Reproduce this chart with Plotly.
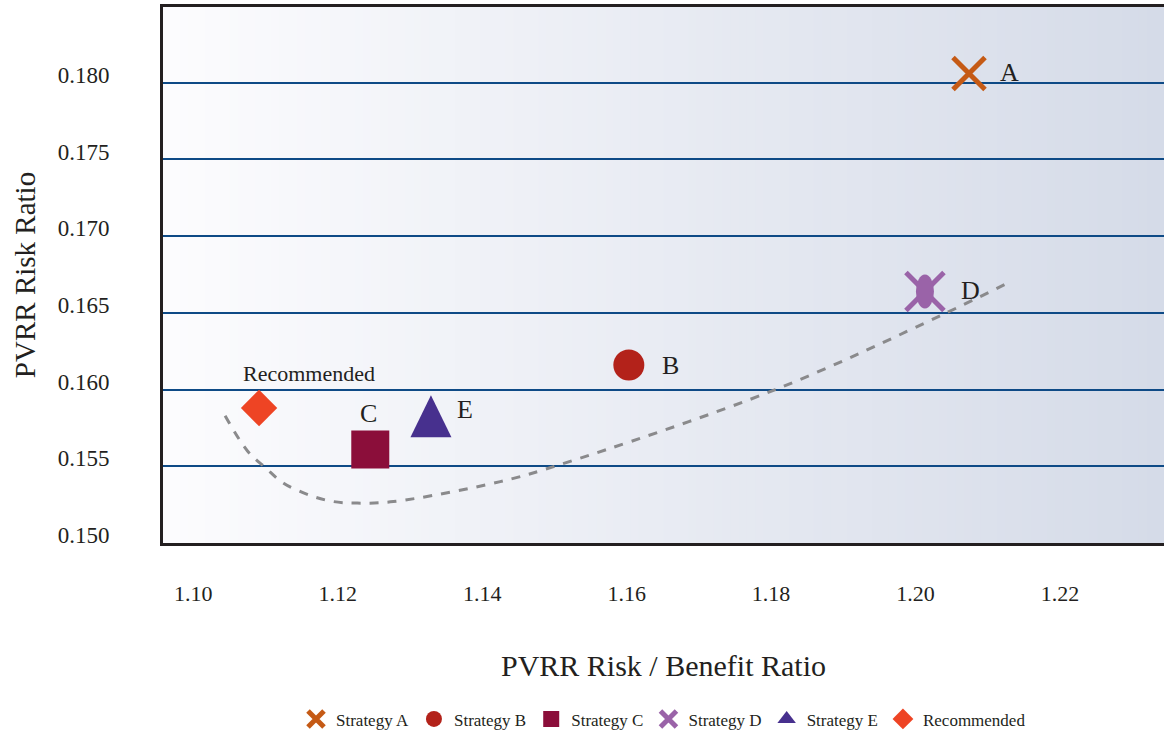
import plotly.graph_objects as go

# Strategy scores
strategies = ["Strategy A", "Strategy B", "Strategy C", "Strategy D", "Strategy E", "Recommended"]
point_labels = ["A", "B", "C", "D", "E", "Recommended"]
risk_benefit = [1.2074, 1.1603, 1.1245, 1.2013, 1.1329, 1.1091]
risk_ratio = [0.1806, 0.1616, 0.1561, 0.1664, 0.1578, 0.1588]

# Efficient-frontier style trend curve
trend_x = [1.1044, 1.1075, 1.1100, 1.1125, 1.1162, 1.1194, 1.1227, 1.1277,
           1.1425, 1.1507, 1.1806, 1.2038, 1.2134]
trend_y = [0.1583, 0.1560, 0.1549, 0.1539, 0.1531, 0.1527, 0.1526, 0.1527,
           0.1540, 0.1551, 0.1600, 0.1649, 0.1671]

x_ticks = [1.10, 1.12, 1.14, 1.16, 1.18, 1.20, 1.22]
x_ticktext = ["1.10", "1.12", "1.14", "1.16", "1.18", "1.20", "1.22"]

FONT = "Liberation Serif"
INK = "#231f20"

colors = ["#c55a15", "#b3221a", "#8b0e3a", "#9a63a8", "#47308e", "#ee4424"]
symbols = ["x-thin", "circle", "square", "x-thin", "triangle-up", "diamond"]
sizes = [32, 31, 38, 38, 28, 28]

fig = go.Figure()

# horizontal background gradient
n_strips = 120
c0 = (252, 252, 254)
c1 = (213, 219, 232)
for i in range(n_strips):
    t = (i + 0.5) / n_strips
    rgb = tuple(round(a + (b - a) * t) for a, b in zip(c0, c1))
    fig.add_shape(type="rect", xref="paper", yref="paper",
                  x0=i / n_strips, x1=(i + 1) / n_strips + 0.001, y0=0, y1=1,
                  fillcolor="rgb(%d,%d,%d)" % rgb, line_width=0, layer="below")

fig.add_trace(go.Scatter(
    x=trend_x, y=trend_y, mode="lines", showlegend=False, hoverinfo="skip",
    line=dict(color="#8a8a8c", width=3, dash="dash", shape="spline", smoothing=1.0)))

for i, name in enumerate(strategies):
    marker = dict(symbol=symbols[i], size=sizes[i], color=colors[i])
    if symbols[i] == "x-thin":
        marker["line"] = dict(color=colors[i], width=5)
    else:
        marker["line"] = dict(width=0)
    fig.add_trace(go.Scatter(
        x=[risk_benefit[i]], y=[risk_ratio[i]], mode="markers", name=name,
        marker=marker))

# Strategy D: oval body over the cross
iD = strategies.index("Strategy D")
fig.add_shape(type="circle", xref="x", yref="y", xsizemode="pixel", ysizemode="pixel",
              xanchor=risk_benefit[iD], yanchor=risk_ratio[iD],
              x0=-9, x1=9, y0=-17, y1=17, fillcolor=colors[iD], line_width=0, layer="above")

# Strategy E: tall triangle glyph
iE = strategies.index("Strategy E")
fig.add_shape(type="path", xref="x", yref="y", xsizemode="pixel", ysizemode="pixel",
              xanchor=risk_benefit[iE], yanchor=risk_ratio[iE],
              path="M -20.5,-14 L 20.5,-14 L 0,28 Z",
              fillcolor=colors[iE], line_width=0, layer="above")

# point labels
label_offsets = {
    "A": dict(xshift=29, yshift=1, xanchor="left"),
    "B": dict(xshift=31, yshift=0, xanchor="left"),
    "C": dict(xshift=-2, yshift=36, xanchor="center"),
    "D": dict(xshift=34, yshift=1, xanchor="left"),
    "E": dict(xshift=24, yshift=14, xanchor="left"),
    "Recommended": dict(xshift=50, yshift=35, xanchor="center"),
}
for i, lab in enumerate(point_labels):
    fs = 22 if lab == "Recommended" else 26
    fig.add_annotation(x=risk_benefit[i], y=risk_ratio[i], text=lab, showarrow=False,
                       yanchor="middle", font=dict(family=FONT, size=fs, color=INK),
                       **label_offsets[lab])

fig.update_xaxes(
    range=[1.0958, 1.2344], tickvals=x_ticks, ticktext=x_ticktext,
    showgrid=False, zeroline=False, showline=True, linecolor="#231f20", linewidth=3,
    mirror=True, ticks="", ticklabelstandoff=29,
    tickfont=dict(family=FONT, size=22, color=INK),
    title=dict(text="PVRR Risk / Benefit Ratio", standoff=50,
               font=dict(family=FONT, size=30, color=INK)))

fig.update_yaxes(
    range=[0.150, 0.18494], dtick=0.005, tick0=0.150, tickformat=".3f",
    showgrid=True, gridcolor="#0e4a86", gridwidth=2, zeroline=False,
    showline=True, linecolor="#231f20", linewidth=3, ticks="",
    ticklabelstandoff=46, ticklabelshift=-8,
    tickfont=dict(family=FONT, size=23, color=INK),
    title=dict(text="PVRR Risk Ratio", standoff=14,
               font=dict(family=FONT, size=29, color=INK)))

fig.update_layout(
    width=1164, height=738,
    margin=dict(l=163, r=0, t=7, b=193),
    paper_bgcolor="white", plot_bgcolor="white",
    font=dict(family=FONT, color=INK),
    legend=dict(orientation="h", x=0.5, xanchor="center", y=-0.329, yanchor="middle",
                font=dict(family=FONT, size=17, color=INK), itemwidth=30,
                bgcolor="rgba(0,0,0,0)"),
)

fig.write_html("out.html")
